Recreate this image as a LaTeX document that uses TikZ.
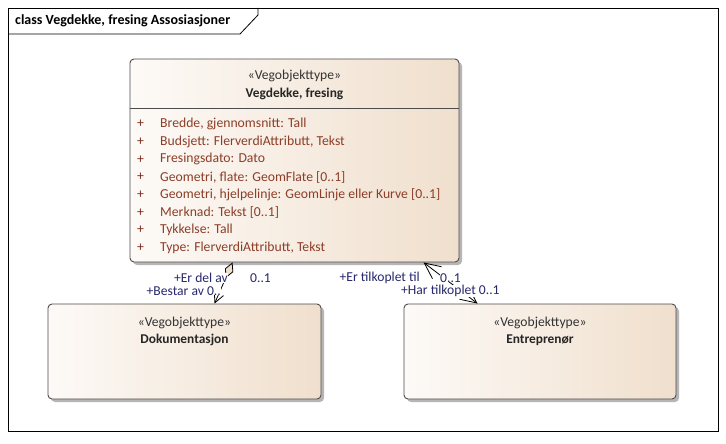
\documentclass[tikz,border=0pt]{standalone}
\usepackage{fontspec}
\setmainfont{Carlito}
\usetikzlibrary{calc,positioning,shadows,arrows.meta}

\definecolor{attrcol}{RGB}{140,62,40}
\definecolor{pluscol}{RGB}{125,40,30}
\definecolor{rolecol}{RGB}{40,40,110}
\definecolor{creamL}{RGB}{253,250,247}
\definecolor{creamR}{RGB}{240,223,205}
\definecolor{shadowgray}{RGB}{175,175,175}

\tikzset{
	classbox/.style={draw=black!70, line width=0.9pt, rounded corners=4pt, left color=creamL, right color=creamR,
		drop shadow={shadow xshift=3pt, shadow yshift=-3pt, fill=shadowgray, opacity=0.9}, inner sep=0pt},
	stereo/.style={font=\fontsize{13.6}{15}\selectfont, text=black!80},
	cname/.style={font=\fontsize{13.4}{15}\selectfont\bfseries, text=black!85},
	attr/.style={font=\fontsize{13.7}{15}\selectfont, text=attrcol, anchor=west, inner sep=0pt},
	role/.style={font=\fontsize{13.6}{15}\selectfont, text=rolecol, fill=white, inner sep=0pt},
	assoc/.style={draw=black, line width=0.8pt},
}

\begin{document}
\begin{tikzpicture}[x=1pt, y=-1pt]
		\useasboundingbox[fill=white] (0,0) rectangle (726,444);

		% frame and title tab
		\draw[line width=0.8pt] (8,8) rectangle (718,431);
		\draw[line width=0.8pt] (8,34) -- (240,34) -- (258,15) -- (258,8);
		\node[anchor=west, inner sep=0pt, font=\fontsize{14}{16}\selectfont\bfseries] (title) at (15,21) {class Vegdekke, fresing Assosiasjoner};

		% classes
		\node[classbox, minimum width=329pt, minimum height=203pt] (vegdekke) at (294.5,160.5) {};
		\draw[draw=black!70, line width=0.9pt] (vegdekke.west |- 0,108) -- (vegdekke.east |- 0,108);
		\node[stereo] (vegstereo) at (294.5,75.5) {«Vegobjekttype»};
		\node[cname] (vegname) at (294.5,93.5) {Vegdekke, fresing};
		\foreach \txt [count=\i from 0] in {{Bredde, gjennomsnitt: Tall},{Budsjett: FlerverdiAttributt, Tekst},
			{Fresingsdato: Dato},{Geometri, flate: GeomFlate [0..1]},{Geometri, hjelpelinje: GeomLinje eller Kurve [0..1]},
			{Merknad: Tekst [0..1]},{Tykkelse: Tall},{Type: FlerverdiAttributt, Tekst}} {
			\node[attr, text=pluscol] (plus\i) at (137,124+17.7*\i) {+};
			\node[attr] (attr\i) at (160,124+17.7*\i) {\txt};
		}

		\node[classbox, minimum width=273pt, minimum height=95pt] (dok) at (184.5,351.5) {};
		\node[stereo] (dokstereo) at (184.5,323) {«Vegobjekttype»};
		\node[cname] (dokname) at (184.5,340) {Dokumentasjon};

		\node[classbox, minimum width=272pt, minimum height=95pt] (entre) at (540,351.5) {};
		\node[stereo] (entrestereo) at (540,323) {«Vegobjekttype»};
		\node[cname] (entrename) at (540,340) {Entreprenør};

		% associations
		\draw[assoc, {Diamond[fill=creamR, length=17pt, width=9pt]}-{Straight Barb[length=10pt, width=10pt]}]
			($(vegdekke.south west)+(103,0)$) -- ($(dok.north west)+(167,0)$);
		\draw[assoc, {Straight Barb[length=16pt, width=15pt]}-{Straight Barb[length=16pt, width=15pt]}]
			($(vegdekke.south west)+(294,0)$) -- ($(entre.north west)+(74,0)$);

		% role names
		\node[role, anchor=east] (delav) at (228,278) {+Er del av};
		\node[role, anchor=west] (delavmult) at (250,278) {0..1};
		\node[role, anchor=east] (bestar) at (221,291) {+Bestar av 0..};
		\node[role, anchor=east] (tilkoplettil) at (420,278) {+Er tilkoplet til};
		\node[role, anchor=west] (tilmult) at (440,278) {0..1};
		\node[role, anchor=west] (hartilkoplet) at (401,291) {+Har tilkoplet 0..1};
	\end{tikzpicture}
\end{document}
